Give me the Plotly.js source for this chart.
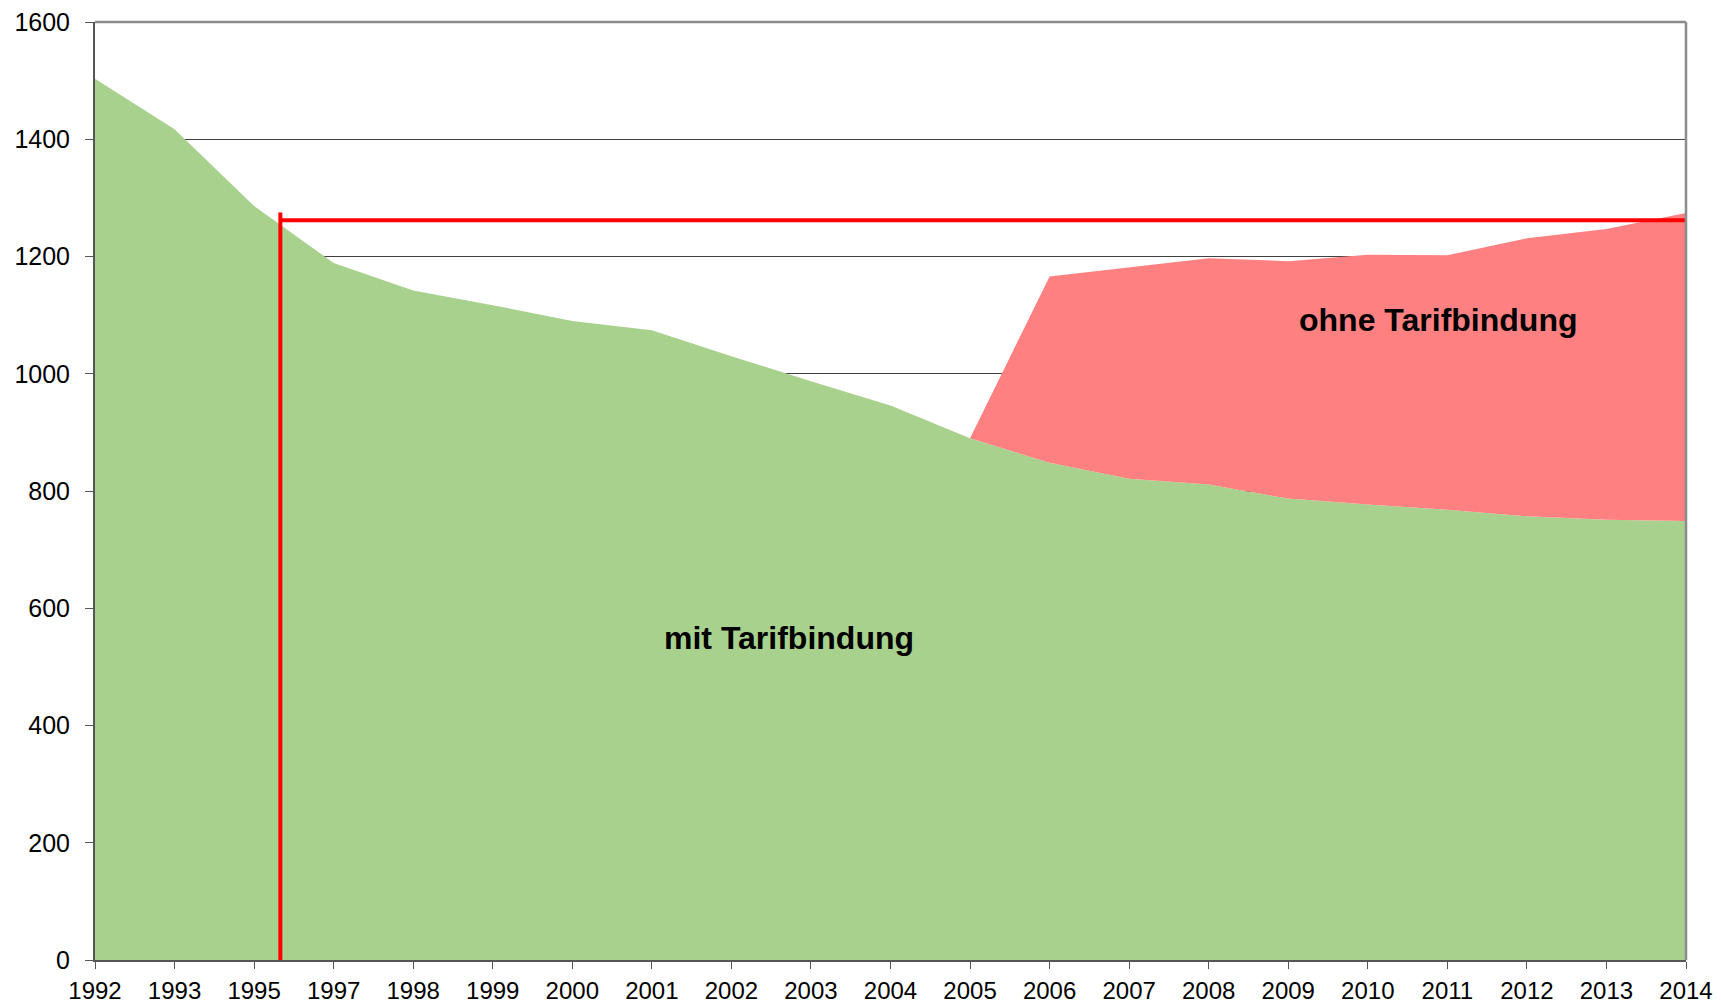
<!DOCTYPE html>
<html>
<head>
<meta charset="utf-8">
<script src="https://cdn.plot.ly/plotly-3.0.1.min.js"></script>
<style>
html, body { margin: 0; padding: 0; background: #ffffff; }
#chart { width: 1721px; height: 1004px; }
</style>
</head>
<body>
<div id="chart"></div>
<script>
// Categories (equally spaced on the original chart; 1994 and 1996 are missing)
const years = ['1992','1993','1995','1997','1998','1999','2000','2001','2002','2003','2004','2005','2006','2007','2008','2009','2010','2011','2012','2013','2014'];
// Series values
const mitTarifbindung = [1503, 1417, 1286, 1189, 1142, 1117, 1090, 1074, 1030, 987, 946, 890, 848, 821, 811, 787, 777, 768, 757, 751, 749];
const ohneTarifbindung = [0, 0, 0, 0, 0, 0, 0, 0, 0, 0, 0, 0, 318, 361, 386, 405, 426, 434, 474, 496, 525];
// Red reference line (position in category index units, value level)
const refLineX = [2.33, 2.33];
const refLineY = [0, 1275];
const levelLineX = [2.33, 20];
const levelLineY = [1262, 1262];
const yTicks = [0, 200, 400, 600, 800, 1000, 1200, 1400, 1600];

const idx = years.map((_, i) => i);
const FONT = 'Liberation Sans, Arial, sans-serif';

const traces = [
  {
    x: idx, y: mitTarifbindung, name: 'mit Tarifbindung',
    type: 'scatter', mode: 'lines', stackgroup: 'a',
    line: { width: 0, color: '#a9d18e' }, fillcolor: '#a9d18e',
    hoverinfo: 'skip'
  },
  {
    x: idx, y: ohneTarifbindung, name: 'ohne Tarifbindung',
    type: 'scatter', mode: 'lines', stackgroup: 'a',
    line: { width: 0, color: '#ff8080' }, fillcolor: '#ff8080',
    hoverinfo: 'skip'
  },
  {
    x: refLineX, y: refLineY, type: 'scatter', mode: 'lines',
    line: { color: '#ff0000', width: 4 }, hoverinfo: 'skip', showlegend: false
  },
  {
    x: levelLineX, y: levelLineY, type: 'scatter', mode: 'lines',
    line: { color: '#ff0000', width: 4 }, hoverinfo: 'skip', showlegend: false
  }
];

const layout = {
  width: 1721, height: 1004,
  margin: { l: 95, r: 35, t: 22, b: 44 },
  paper_bgcolor: '#ffffff', plot_bgcolor: '#ffffff',
  showlegend: false,
  font: { family: FONT, size: 24, color: '#000000' },
  xaxis: {
    type: 'linear', range: [0, 20],
    tickmode: 'array', tickvals: idx, ticktext: years,
    showgrid: false, zeroline: false,
    showline: true, linecolor: '#555555', linewidth: 2,
    ticks: 'outside', ticklen: 7, tickcolor: '#555555', tickwidth: 1,
    ticklabelstandoff: 1,
    tickfont: { family: FONT, size: 24, color: '#000000' },
    fixedrange: true
  },
  yaxis: {
    range: [0, 1600],
    tickmode: 'array', tickvals: yTicks,
    showgrid: true, gridcolor: '#404040', gridwidth: 1,
    zeroline: false,
    showline: true, linecolor: '#555555', linewidth: 2,
    ticks: 'outside', ticklen: 8, tickcolor: '#555555', tickwidth: 1,
    ticklabelstandoff: 10,
    tickfont: { family: FONT, size: 25, color: '#000000' },
    fixedrange: true
  },
  shapes: [
    { type: 'line', xref: 'paper', yref: 'paper', x0: 0, x1: 1, y0: 1, y1: 1,
      line: { color: '#8c8c8c', width: 2.5 }, layer: 'above' },
    { type: 'line', xref: 'paper', yref: 'paper', x0: 1, x1: 1, y0: 0, y1: 1,
      line: { color: '#8c8c8c', width: 2.5 }, layer: 'above' }
  ],
  annotations: [
    { text: '<b>mit Tarifbindung</b>', xref: 'x', yref: 'y', x: 8.73, y: 549,
      showarrow: false, font: { family: FONT, size: 32, color: '#000000' } },
    { text: '<b>ohne Tarifbindung</b>', xref: 'x', yref: 'y', x: 16.88, y: 1092,
      showarrow: false, font: { family: FONT, size: 32, color: '#000000' } }
  ]
};

Plotly.newPlot('chart', traces, layout, { staticPlot: true, displayModeBar: false });
</script>
</body>
</html>
